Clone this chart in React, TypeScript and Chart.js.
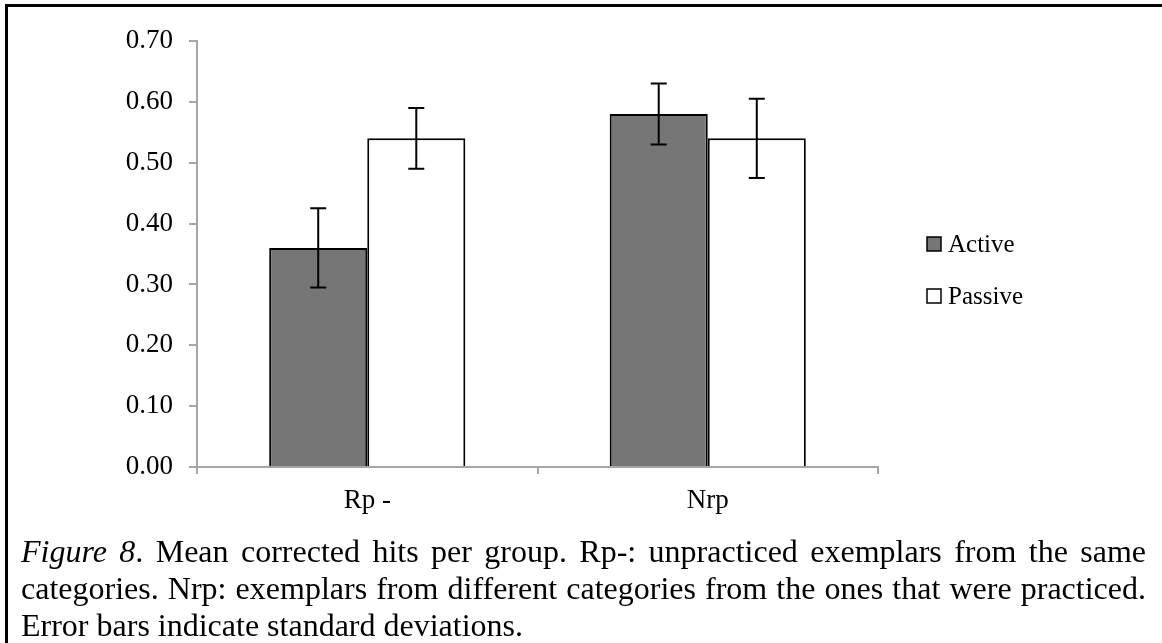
import React, { useEffect, useRef } from "react";
import { Chart, registerables } from "chart.js";

Chart.register(...registerables);

// ---- data ----
const categories = ["Rp -", "Nrp"];
const seriesNames = ["Active", "Passive"];
const activeValues = [0.36, 0.58];
const passiveValues = [0.54, 0.54];
const activeErrors = [0.065, 0.05];
const passiveErrors = [0.05, 0.065];
const yMin = 0;
const yMax = 0.7;
const yStep = 0.1;
const captionLead = "Figure 8";
const captionLines = [
  ". Mean corrected hits per group. Rp-: unpracticed exemplars from the same",
  "categories. Nrp: exemplars from different categories from the ones that were practiced.",
  "Error bars indicate standard deviations.",
];

const activeColor = "#767676";
const passiveColor = "#ffffff";
const axisColor = "#a6a6a6";
const serif = "'Liberation Serif', 'Times New Roman', serif";

const CANVAS_W = 1162;
const CANVAS_H = 520;

const errorBarPlugin = {
  id: "errorBars",
  afterDatasetsDraw(chart: any) {
    const ctx = chart.ctx;
    const y = chart.scales.y;
    chart.data.datasets.forEach((ds: any, di: number) => {
      const meta = chart.getDatasetMeta(di);
      meta.data.forEach((bar: any, i: number) => {
        const v = ds.data[i];
        const e = ds.errors[i];
        const top = y.getPixelForValue(v + e);
        const bot = y.getPixelForValue(v - e);
        ctx.save();
        ctx.strokeStyle = "#000";
        ctx.lineWidth = 2;
        ctx.beginPath();
        ctx.moveTo(bar.x, top);
        ctx.lineTo(bar.x, bot);
        ctx.moveTo(bar.x - 8, top);
        ctx.lineTo(bar.x + 8, top);
        ctx.moveTo(bar.x - 8, bot);
        ctx.lineTo(bar.x + 8, bot);
        ctx.stroke();
        ctx.restore();
      });
    });
  },
};

const legendPlugin = {
  id: "customLegend",
  afterDraw(chart: any) {
    const ctx = chart.ctx;
    const x0 = 927;
    const yCenters = [244, 296];
    chart.data.datasets.forEach((ds: any, i: number) => {
      const cy = yCenters[i];
      ctx.save();
      ctx.fillStyle = ds.backgroundColor;
      ctx.fillRect(x0, cy - 7, 14, 14);
      ctx.strokeStyle = "#000";
      ctx.lineWidth = 1.5;
      ctx.strokeRect(x0, cy - 7, 14, 14);
      ctx.fillStyle = "#000";
      ctx.font = `25px ${serif}`;
      ctx.textAlign = "left";
      ctx.textBaseline = "middle";
      ctx.fillText(ds.label, x0 + 21, cy + 1);
      ctx.restore();
    });
  },
};

function BarChart() {
  const ref = useRef<HTMLCanvasElement | null>(null);
  useEffect(() => {
    if (!ref.current) return;
    const chart = new Chart(ref.current, {
      type: "bar",
      data: {
        labels: categories,
        datasets: [
          {
            label: seriesNames[0],
            data: activeValues,
            errors: activeErrors,
            backgroundColor: activeColor,
            borderColor: "#000",
            borderWidth: 2,
            categoryPercentage: 0.576,
            barPercentage: 1.0,
          } as any,
          {
            label: seriesNames[1],
            data: passiveValues,
            errors: passiveErrors,
            backgroundColor: passiveColor,
            borderColor: "#000",
            borderWidth: 2,
            categoryPercentage: 0.576,
            barPercentage: 1.0,
          } as any,
        ],
      },
      options: {
        responsive: false,
        animation: false,
        devicePixelRatio: 1,
        layout: { padding: { left: 0, top: 41, right: CANVAS_W - 878, bottom: 0 } },
        plugins: {
          legend: { display: false },
          tooltip: { enabled: false },
          title: { display: false },
        },
        scales: {
          x: {
            grid: {
              display: true,
              drawOnChartArea: false,
              drawTicks: true,
              tickLength: 7,
              color: axisColor,
              lineWidth: 2,
              offset: true,
            },
            border: { display: true, color: axisColor, width: 2 },
            ticks: {
              color: "#000",
              font: { family: serif, size: 27 },
              padding: 11,
            },
            afterFit(scale: any) {
              scale.height = CANVAS_H - 467;
            },
          },
          y: {
            min: yMin,
            max: yMax,
            grid: {
              display: true,
              drawOnChartArea: false,
              drawTicks: true,
              tickLength: 8,
              color: axisColor,
              lineWidth: 2,
            },
            border: { display: true, color: axisColor, width: 2 },
            ticks: {
              stepSize: yStep,
              color: "#000",
              font: { family: serif, size: 27 },
              padding: 16,
              callback: (v: any) => Number(v).toFixed(2),
            },
            afterFit(scale: any) {
              scale.width = 197;
            },
          },
        },
      } as any,
      plugins: [errorBarPlugin, legendPlugin],
    });
    return () => chart.destroy();
  }, []);
  return (
    <canvas
      ref={ref}
      width={CANVAS_W}
      height={CANVAS_H}
      style={{ position: "absolute", left: 0, top: 0, width: CANVAS_W, height: CANVAS_H }}
    />
  );
}

const justifiedLine: React.CSSProperties = {
  textAlign: "justify",
  textAlignLast: "justify",
  whiteSpace: "nowrap",
};

export default function App() {
  return (
    <div
      style={{
        position: "absolute",
        left: 0,
        top: 0,
        width: 1162,
        height: 643,
        overflow: "hidden",
        background: "#fff",
      }}
    >
      <BarChart />
      <div
        style={{
          position: "absolute",
          left: 5,
          top: 4,
          width: 1200,
          height: 700,
          borderLeft: "3px solid #000",
          borderTop: "3px solid #000",
          boxSizing: "border-box",
          pointerEvents: "none",
        }}
      />
      <div
        style={{
          position: "absolute",
          left: 21,
          top: 533,
          width: 1125,
          fontFamily: serif,
          fontSize: 32,
          lineHeight: "37px",
          color: "#000",
        }}
      >
        <div style={{ textAlign: "justify", textAlignLast: "justify" }}>
          <em>{captionLead}</em>
          {captionLines[0]}
        </div>
        <div style={{ textAlign: "justify", textAlignLast: "justify" }}>{captionLines[1]}</div>
        <div style={{ textAlign: "left" }}>{captionLines[2]}</div>
      </div>
    </div>
  );
}
